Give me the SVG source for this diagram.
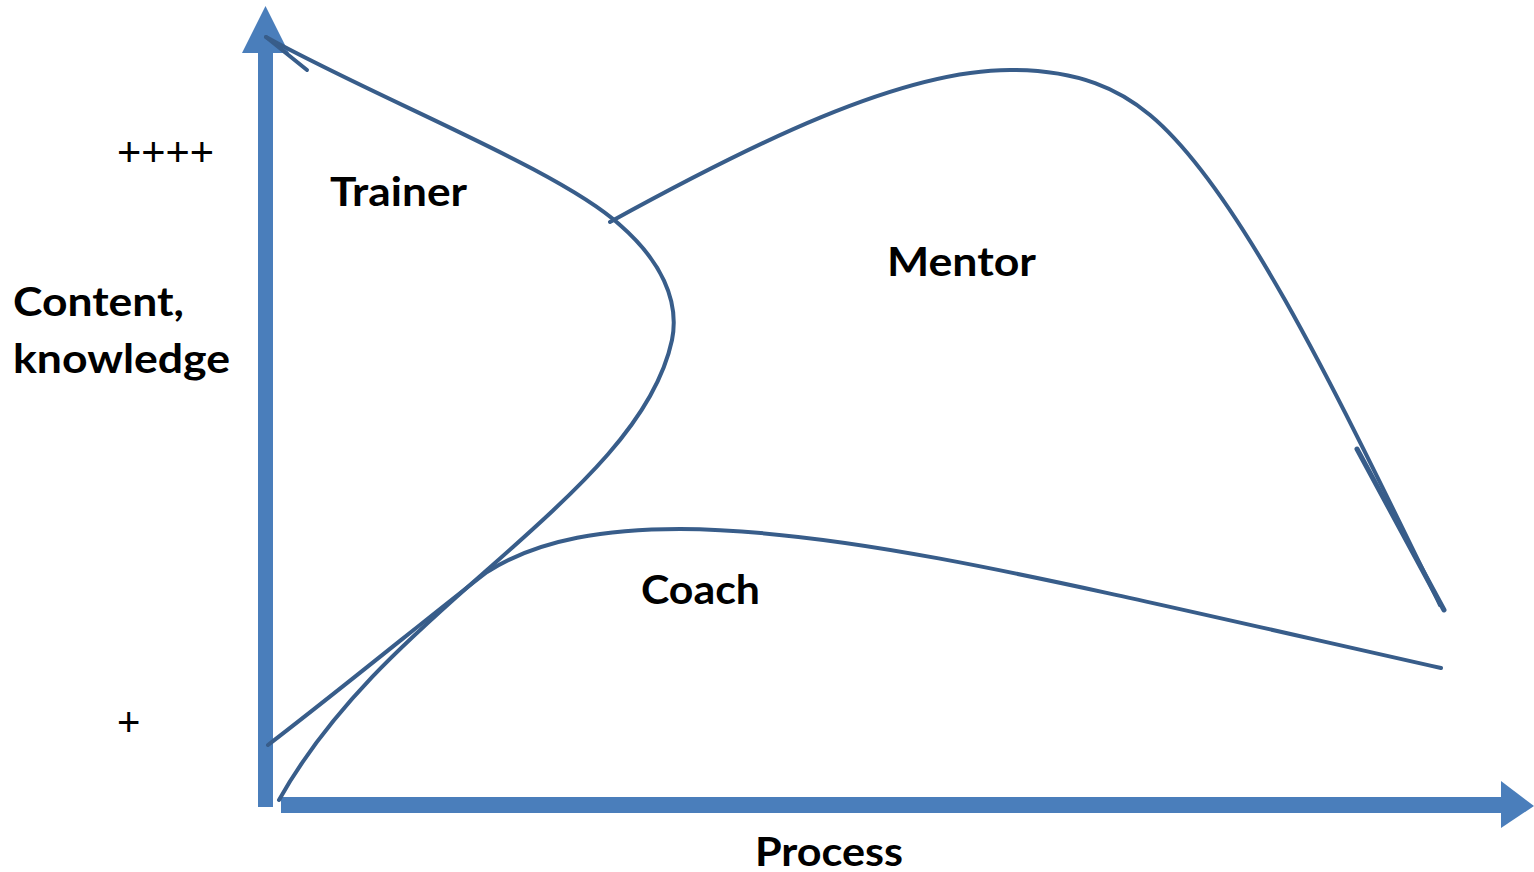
<svg xmlns="http://www.w3.org/2000/svg" width="1534" height="872" viewBox="0 0 1534 872">
  <style>
    .axis { fill: #4A7EBB; }
    .curve { fill: none; stroke: #385D8A; stroke-width: 4; stroke-linecap: round; }
    .lbl { font-family: Lato, "Liberation Sans", sans-serif; font-weight: bold; font-size: 40px; fill: #000; }
    .tick { font-family: "Liberation Sans", Arial, sans-serif; font-size: 40px; fill: #000; }
  </style>
  <rect width="1534" height="872" fill="#fff"/>

  <!-- axes -->
  <g id="axis-y">
    <rect class="axis" x="258" y="50" width="15" height="757"/>
    <polygon class="axis" points="242,53 265.5,6 289,53"/>
  </g>
  <g id="axis-x">
    <rect class="axis" x="281" y="797" width="1222" height="16"/>
    <polygon class="axis" points="1501,781 1534,806 1501,828"/>
  </g>

  <!-- role curves -->
  <g id="connectors">
    <path class="curve" d="M266,37 L307,70"/>
    <path class="curve" d="M266,37 C380,100 560,170 620,225 C660,260 680,300 672,340 C655,420 580,488 487,570 C425,625 335,700 279,800"/>
    <path class="curve" d="M268,745 C340,690 440,608 487,572 C540,538 610,529 680,529 C850,530 1050,580 1441,668"/>
    <path class="curve" d="M610,222 C750,145 900,70 1010,70 C1080,70 1120,90 1150,115 C1240,190 1340,400 1440,605"/>
    <path class="curve" d="M1357,449 L1444,610" style="stroke-width:5"/>
  </g>

  <!-- region labels -->
  <g id="trainer"><text class="lbl" x="330" y="206" textLength="137" lengthAdjust="spacingAndGlyphs">Trainer</text></g>
  <g id="mentor"><text class="lbl" x="887" y="276" textLength="149" lengthAdjust="spacingAndGlyphs">Mentor</text></g>
  <g id="coach"><text class="lbl" x="641" y="604" textLength="119" lengthAdjust="spacingAndGlyphs">Coach</text></g>

  <!-- axis labels -->
  <g id="y-label">
    <text class="lbl" x="13" y="316" textLength="171" lengthAdjust="spacingAndGlyphs">Content,</text>
    <text class="lbl" x="13" y="373" textLength="217" lengthAdjust="spacingAndGlyphs">knowledge</text>
  </g>
  <g id="x-label"><text class="lbl" x="755" y="866" textLength="148" lengthAdjust="spacingAndGlyphs">Process</text></g>
  <g id="scale">
    <text class="tick" x="117" y="166" textLength="97" lengthAdjust="spacingAndGlyphs">++++</text>
    <text class="tick" x="117" y="736">+</text>
  </g>
</svg>
